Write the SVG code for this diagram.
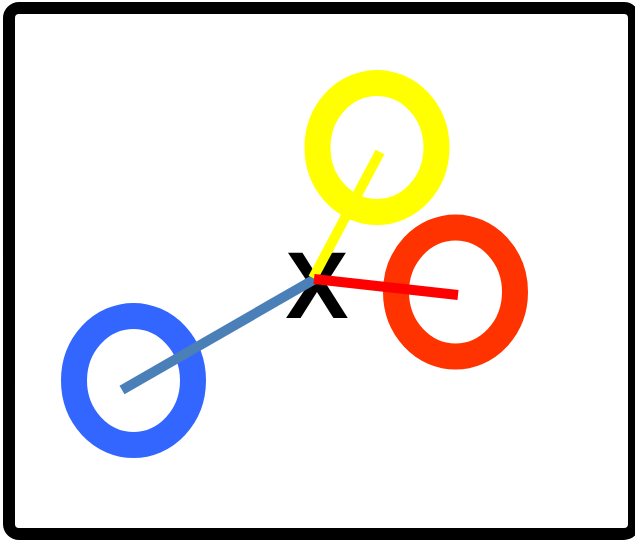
<svg xmlns="http://www.w3.org/2000/svg" width="635" height="540" viewBox="0 0 635 540">
<style>
.ring{fill:none;stroke-width:26}
.conn{stroke-width:10;stroke-linecap:butt;fill:none}
</style>
<rect x="0" y="0" width="635" height="540" fill="#ffffff"/>
<rect id="frame" x="9" y="8" width="625" height="526" rx="10" fill="#ffffff" stroke="#000000" stroke-width="12"/>
<g id="node-yellow"><ellipse class="ring" cx="377" cy="147.5" rx="59.5" ry="64.5" stroke="#ffff00"/></g>
<g id="node-red"><ellipse class="ring" cx="455.5" cy="292" rx="59.5" ry="64.5" stroke="#ff3300"/></g>
<g id="node-blue"><ellipse class="ring" cx="133.5" cy="380.5" rx="59.5" ry="64.5" stroke="#3366ff"/></g>
<g id="node-x"><text x="317" y="318" font-family="Liberation Sans, Arial, sans-serif" font-weight="bold" font-size="95" text-anchor="middle" fill="#000000">X</text></g>
<g id="connectors">
<line class="conn" x1="122" y1="390" x2="315" y2="279" stroke="#4a7fb8"/>
<line class="conn" x1="380" y1="152" x2="313" y2="278" stroke="#ffff00"/>
<line class="conn" x1="314" y1="279" x2="458" y2="295" stroke="#ff0000"/>
</g>
</svg>
